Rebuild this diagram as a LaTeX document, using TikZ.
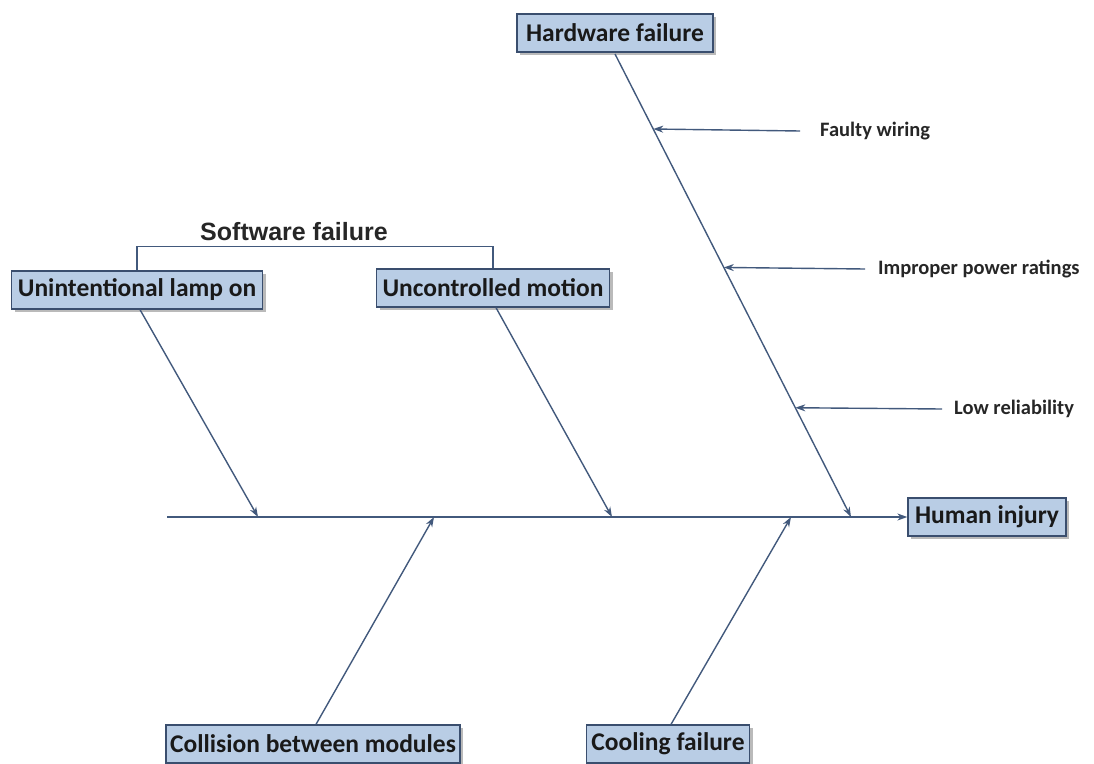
\documentclass[tikz,border=0pt]{standalone}
\usepackage{fontspec}
\setmainfont{Carlito}
\newfontfamily\labelfont{Liberation Sans}
\usetikzlibrary{arrows.meta,shadows,calc}
\definecolor{linecol}{HTML}{42597C}
\definecolor{boxfill}{HTML}{B9CDE5}
\definecolor{boxedge}{HTML}{3A4E6E}
\tikzset{
  cause/.style={draw=boxedge, line width=1.3pt, fill=boxfill, font=\bfseries\fontsize{25.5}{28}\selectfont,
    text=black!90, inner xsep=2pt, minimum height=38pt, anchor=center,
    drop shadow={shadow xshift=3pt, shadow yshift=-3pt, fill=black!45, opacity=0.6}},
  subcause/.style={font=\bfseries\fontsize{20.5}{23}\selectfont, text=black!85, inner sep=0pt, anchor=west},
  bone/.style={draw=linecol, line width=1.4pt},
  arr/.style={bone, -{Stealth[length=10pt,width=7pt]}}
}
\begin{document}
\begin{tikzpicture}[x=1pt,y=-1pt]
\useasboundingbox (0,0) rectangle (1094,763);

% effect and main causes
\node[cause, minimum width=196pt] (hw)  at (615,33)  {Hardware failure};
\node[cause, minimum width=251pt] (lamp) at (137,290) {Unintentional lamp on};
\node[cause, minimum width=233pt] (mot)  at (493,288) {Uncontrolled motion};
\node[cause, minimum width=158pt] (inj) at (987,517) {Human injury};
\node[cause, minimum width=294pt] (col)  at (313,744) {Collision between modules};
\node[cause, minimum width=163pt] (cool) at (668,744) {Cooling failure};

% group label over the two software causes
\node[font=\labelfont\bfseries\fontsize{25}{28}\selectfont, text=black!85] (sw) at (294,232) {Software failure};
\draw[bone, line width=1.1pt] (lamp.north) -- ++(0,-24) -| (mot.north);

% spine
\coordinate (tail) at (167,517);
\draw[arr] (tail) -- (inj.west);

% junctions on the spine
\coordinate (jlamp) at (258,517);
\coordinate (jmot)  at (612,517);
\coordinate (jhw)   at (851,517);
\coordinate (jcol)  at (434,517);
\coordinate (jcool) at (791,517);

% bones
\coordinate (hwtop) at (615,54);
\draw[arr] ($(lamp.south)+(3,0)$) -- (jlamp);
\draw[arr] ($(mot.south)+(3,0)$) -- (jmot);
\draw[arr] (hwtop) -- (jhw);
\draw[arr] ($(col.north)+(3,0)$) -- (jcol);
\draw[arr] ($(cool.north)+(3,0)$) -- (jcool);

% sub-causes of the hardware branch
\node[subcause] (fw) at (820,131) {Faulty wiring};
\node[subcause] (pr) at (878,269) {Improper power ratings};
\node[subcause] (lr) at (954,409) {Low reliability};
\coordinate (hfw) at ($(hwtop)!0.162!(jhw)$);
\coordinate (hpr) at ($(hwtop)!0.461!(jhw)$);
\coordinate (hlr) at ($(hwtop)!0.764!(jhw)$);
\draw[arr] ([xshift=-20pt]fw.west) -- (hfw);
\draw[arr] ([xshift=-13pt]pr.west) -- (hpr);
\draw[arr] ([xshift=-12pt]lr.west) -- (hlr);
\end{tikzpicture}
\end{document}
